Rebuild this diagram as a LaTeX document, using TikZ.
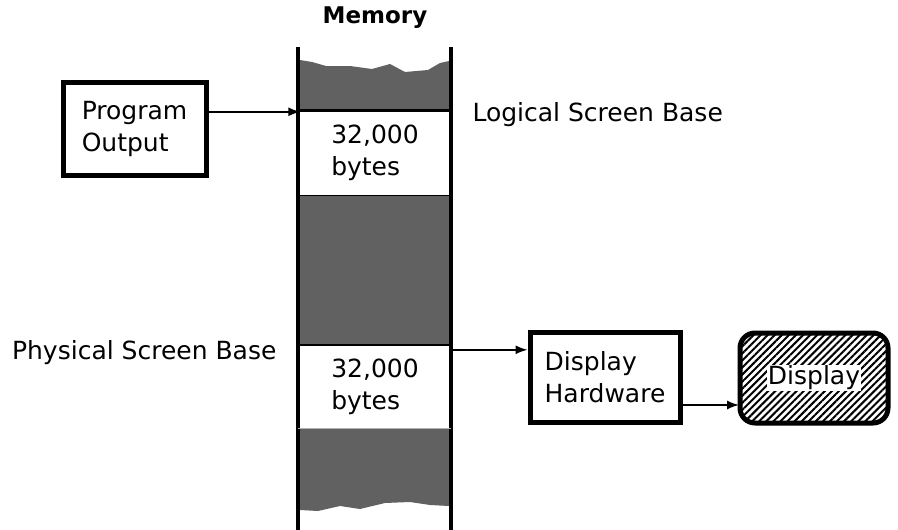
\documentclass[tikz,border=0pt]{standalone}
\usepackage{fontspec}
\setmainfont{DejaVu Sans}
\usetikzlibrary{arrows.meta,patterns.meta}
\definecolor{memgray}{gray}{0.38}
\tikzset{
  box/.style={draw,line width=5pt,align=left,inner sep=0pt},
  segment/.style={align=left,minimum width=149pt,inner sep=0pt},
  arr/.style={line width=1.5pt,-{Latex[length=12pt,width=9pt]}},
  wall/.style={line width=4pt}
}
\begin{document}
\begin{tikzpicture}[x=1pt,y=-1pt,font=\fontsize{25}{32}\selectfont]
  \useasboundingbox (0,0) rectangle (898,530);
  % memory column
  \node[font=\fontsize{23}{26}\selectfont\bfseries] (memlabel) at (375,18) {Memory};
  \fill[memgray] (300,60) -- (312,62) -- (326,66) -- (350,66) -- (372,69) -- (390,64)
    -- (405,72) -- (428,70) -- (440,63) -- (449,61) -- (449,110) -- (300,110) -- cycle;
  \fill[memgray] (300,195) rectangle (449,345);
  \fill[memgray] (300,428) -- (449,428) -- (449,506) -- (430,505) -- (410,502)
    -- (385,503) -- (360,509) -- (340,506) -- (318,511) -- (300,510) -- cycle;
  \draw[wall] (298,47) -- (298,530);
  \draw[wall] (451,47) -- (451,530);
  \draw[line width=3pt] (298,110) -- (451,110);
  \draw[line width=1pt] (298,195) -- (451,195);
  \draw[line width=1.5pt] (298,345) -- (451,345);
  \draw[line width=1pt,gray!60] (298,428) -- (451,428);
  \node[segment,minimum height=85pt] (seg1) at (375,152.5) {32,000\\bytes};
  \node[segment,minimum height=83pt] (seg2) at (375,386.5) {32,000\\bytes};
  % labels
  \node[anchor=west] (logical) at (469,115) {Logical Screen Base};
  \node[anchor=east] (physical) at (280,353) {Physical Screen Base};
  % boxes
  \node[box,minimum width=143pt,minimum height=93pt] (prog) at (134.5,128.5) {Program\\Output};
  \node[box,minimum width=150pt,minimum height=90pt] (hw) at (605,377) {Display\\Hardware};
  \node[box,rounded corners=15pt,minimum width=148pt,minimum height=90pt,
    pattern={Lines[angle=45,distance=5pt,line width=2pt]}] (disp) at (814,378) {};
  \node[fill=white,inner sep=1pt] (disptext) at (disp.center) {Display};
  % connectors
  \coordinate (lbase) at ([yshift=-2pt]seg1.north west);
  \coordinate (pbase) at ([yshift=-5pt]seg2.north east);
  \coordinate (hwout) at ([yshift=-28pt]hw.east);
  \draw[arr] (prog.east |- lbase) -- (lbase);
  \draw[arr] (pbase) -- (hw.west |- pbase);
  \draw[arr] (hwout) -- (disp.west |- hwout);
\end{tikzpicture}
\end{document}
